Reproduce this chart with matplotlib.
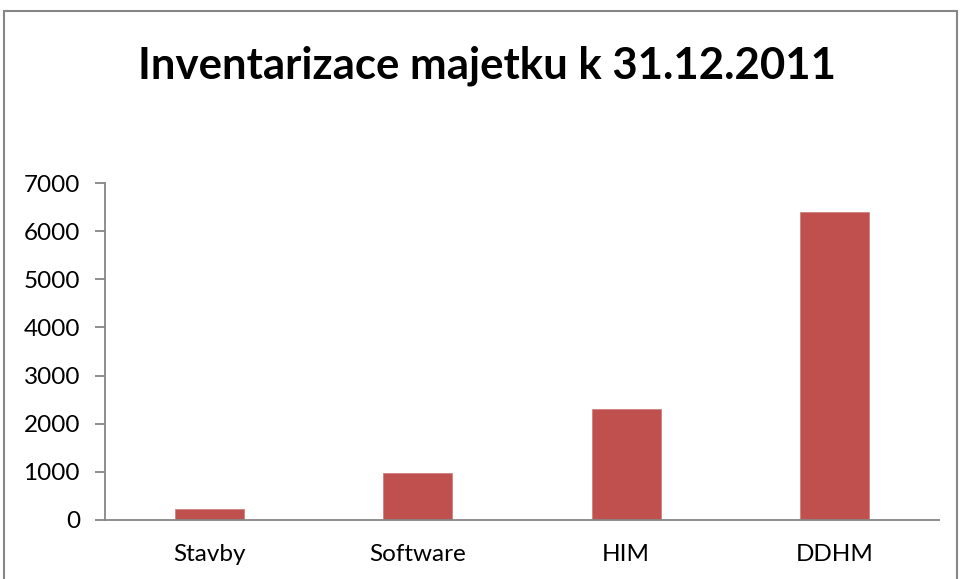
import matplotlib
matplotlib.use("Agg")
import matplotlib.pyplot as plt
from matplotlib.patches import Rectangle

categories = ["Stavby", "Software", "HIM", "DDHM"]
values = [230, 980, 2300, 6400]
yticks = [0, 1000, 2000, 3000, 4000, 5000, 6000, 7000]
title = "Inventarizace majetku k 31.12.2011"

plt.rcParams['font.family'] = ['Lato', 'DejaVu Sans']

fig = plt.figure(figsize=(9.6, 5.79), dpi=100)
fig.patch.set_facecolor("white")
# outer frame
fig.add_artist(Rectangle((4/960, -0.05), (957-4)/960, 1 - 11/579 + 0.05,
                         transform=fig.transFigure, fill=False,
                         edgecolor="#868686", linewidth=1.5))

ax = fig.add_axes([105/960, 1 - 520/579, (939-105)/960, (520-183)/579])
x = list(range(len(categories)))
ax.bar(x, values, width=0.33, color="#C0504D", edgecolor="#D08080", linewidth=0.6)
ax.set_xlim(-0.5, len(categories) - 0.5)
ax.set_ylim(0, 7000)
ax.set_yticks(yticks)
ax.set_yticklabels([str(v) for v in yticks], fontsize=17.5)
ax.set_xticks(x)
ax.set_xticklabels(categories, fontsize=17.5)
for s in ["top", "right"]:
    ax.spines[s].set_visible(False)
for s in ["left", "bottom"]:
    ax.spines[s].set_color("#868686")
    ax.spines[s].set_linewidth(1.3)
ax.tick_params(axis="y", length=7, color="#868686", width=1.3, pad=11)
ax.tick_params(axis="x", length=0, pad=17)

fig.text(487/960, 1 - 66/579, title, ha="center", va="center",
         fontsize=31.5, fontweight="bold")

fig.savefig("out.png", dpi=100)
